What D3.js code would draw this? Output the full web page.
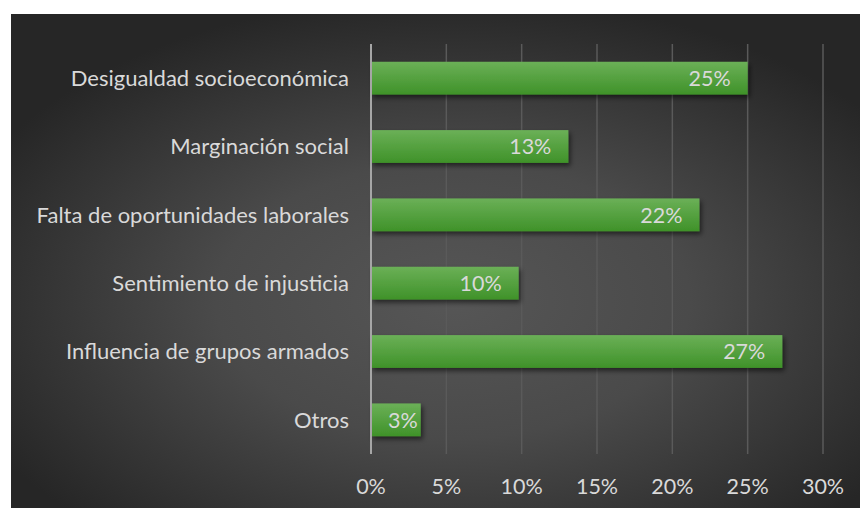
<!DOCTYPE html>
<html>
<head>
<meta charset="utf-8">
<script src="https://cdn.jsdelivr.net/npm/d3@7/dist/d3.min.js"></script>
<style>
  html, body { margin: 0; padding: 0; background: #fff; }
  #chart { width: 860px; height: 508px; }
  text { font-family: Lato, "Open Sans", sans-serif; }
</style>
</head>
<body>
<div id="chart"></div>
<script>
var categories = [
  "Desigualdad socioeconómica",
  "Marginación social",
  "Falta de oportunidades laborales",
  "Sentimiento de injusticia",
  "Influencia de grupos armados",
  "Otros"
];
var values = [25.0, 13.1, 21.8, 9.8, 27.3, 3.3];
var valueLabels = ["25%", "13%", "22%", "10%", "27%", "3%"];
var xTicks = [0, 5, 10, 15, 20, 25, 30];

var W = 860, H = 508;
var frame = { left: 11, top: 14, right: 860, bottom: 508 };
var plot = { left: 371, right: 823, top: 44, bottom: 454 };

var svg = d3.select("#chart").append("svg")
    .attr("width", W)
    .attr("height", H);

var defs = svg.append("defs");

var bg = defs.append("radialGradient")
    .attr("id", "bg")
    .attr("cx", "52%").attr("cy", "58%").attr("r", "62%");
bg.append("stop").attr("offset", "0%").attr("stop-color", "#565656");
bg.append("stop").attr("offset", "45%").attr("stop-color", "#4a4a4a");
bg.append("stop").attr("offset", "100%").attr("stop-color", "#262626");

var barFill = defs.append("linearGradient")
    .attr("id", "barFill")
    .attr("x1", 0).attr("y1", 0).attr("x2", 0).attr("y2", 1);
barFill.append("stop").attr("offset", "0%").attr("stop-color", "#6bb057");
barFill.append("stop").attr("offset", "100%").attr("stop-color", "#3f9229");

var shadow = defs.append("filter")
    .attr("id", "shadow")
    .attr("x", "-10%").attr("y", "-20%").attr("width", "130%").attr("height", "160%");
shadow.append("feDropShadow")
    .attr("dx", 2).attr("dy", 3).attr("stdDeviation", 2.5)
    .attr("flood-color", "#000").attr("flood-opacity", 0.55);

svg.append("rect")
    .attr("x", frame.left).attr("y", frame.top)
    .attr("width", frame.right - frame.left)
    .attr("height", frame.bottom - frame.top)
    .attr("fill", "url(#bg)");

var x = d3.scaleLinear().domain([0, 30]).range([plot.left, plot.right]);
var y = d3.scaleBand().domain(categories).range([plot.top, plot.bottom]).paddingInner(0.52).paddingOuter(0.26);

// gridlines
svg.append("g").selectAll("line")
    .data(xTicks.slice(1))
    .enter().append("line")
    .attr("x1", function(d){ return x(d); })
    .attr("x2", function(d){ return x(d); })
    .attr("y1", plot.top).attr("y2", plot.bottom)
    .attr("stroke", "#5a5a5a")
    .attr("stroke-width", 1.5);

// bars
svg.append("g").selectAll("rect")
    .data(values)
    .enter().append("rect")
    .attr("x", x(0))
    .attr("y", function(d, i){ return y(categories[i]); })
    .attr("width", function(d){ return x(d) - x(0); })
    .attr("height", y.bandwidth())
    .attr("fill", "url(#barFill)")
    .attr("filter", "url(#shadow)");

// zero axis line
svg.append("line")
    .attr("x1", x(0)).attr("x2", x(0))
    .attr("y1", plot.top).attr("y2", plot.bottom)
    .attr("stroke", "#a6a6a6")
    .attr("stroke-width", 2);

// value labels
svg.append("g").selectAll("text")
    .data(values)
    .enter().append("text")
    .attr("y", function(d, i){ return y(categories[i]) + y.bandwidth() / 2; })
    .attr("dy", "0.36em")
    .attr("text-anchor", "end")
    .attr("fill", "#d9d9d9")
    .style("font-size", "21.5px")
    .text(function(d, i){ return valueLabels[i]; })
    .attr("x", function(d){
        var w = this.getComputedTextLength();
        return Math.max(x(d) - 17, x(0) + 17 + w);
    });

// category labels
svg.append("g").selectAll("text")
    .data(categories)
    .enter().append("text")
    .attr("x", 349)
    .attr("y", function(d){ return y(d) + y.bandwidth() / 2; })
    .attr("dy", "0.36em")
    .attr("text-anchor", "end")
    .attr("fill", "#d9d9d9")
    .style("font-size", "22px")
    .text(function(d){ return d; });

// x axis labels
svg.append("g").selectAll("text")
    .data(xTicks)
    .enter().append("text")
    .attr("x", function(d){ return x(d); })
    .attr("y", 486)
    .attr("dy", "0.36em")
    .attr("text-anchor", "middle")
    .attr("fill", "#d9d9d9")
    .style("font-size", "21.5px")
    .text(function(d){ return d + "%"; });
</script>
</body>
</html>
